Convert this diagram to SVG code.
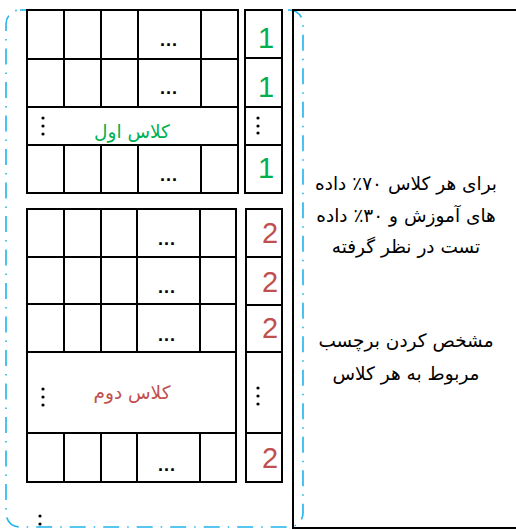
<svg xmlns="http://www.w3.org/2000/svg" width="516" height="530" viewBox="0 0 516 530">
<style>
.g{fill:none;stroke:#000;stroke-width:2}
.dot{fill:#000}
.ell{font-family:"Liberation Sans",Arial,sans-serif;font-size:18px;font-weight:bold;fill:#000;text-anchor:middle;letter-spacing:1px}
.n1{font-family:"Liberation Sans",Arial,sans-serif;font-size:29px;fill:#00b050;text-anchor:middle}
.n2{font-family:"Liberation Sans",Arial,sans-serif;font-size:29px;fill:#c0504d;text-anchor:middle}
.fa{font-family:"DejaVu Sans","Noto Sans",sans-serif;font-size:18.5px;text-anchor:middle}
.lb{font-family:"DejaVu Sans","Noto Sans",sans-serif;font-size:18.5px;text-anchor:middle}
</style>
<rect width="516" height="530" fill="#fff"/>
<g id="container">
<rect x="6" y="10" width="297" height="517" rx="14" fill="none" stroke="#1fb4ec" stroke-width="1.6" stroke-dasharray="16 8 1.5 8"/>
<circle class="dot" cx="40" cy="516" r="1.6"/>
<circle class="dot" cx="40" cy="524" r="1.6"/>
</g>
<g id="class1-data">
<path class="g" d="M27 10H238V193H27Z M27 59H238 M27 107H238 M27 145H238 M64 10V107 M101 10V107 M138 10V107 M201 10V107 M64 145V193 M101 145V193 M138 145V193 M201 145V193"/>
<text class="ell" x="169" y="46">...</text>
<text class="ell" x="169" y="94">...</text>
<text class="ell" x="169" y="181">...</text>
<circle class="dot" cx="43" cy="118" r="1.6"/>
<circle class="dot" cx="43" cy="126" r="1.6"/>
<circle class="dot" cx="43" cy="134" r="1.6"/>
<text class="lb" x="132" y="138" fill="#00b050" direction="rtl">کلاس اول</text>
</g>
<g id="class1-labels">
<path class="g" d="M245 10H282V193H245Z M245 58H282 M245 107H282 M245 145H282"/>
<text class="n1" x="266" y="48">1</text>
<text class="n1" x="266" y="97">1</text>
<text class="n1" x="266" y="178">1</text>
<circle class="dot" cx="258" cy="118" r="1.6"/>
<circle class="dot" cx="258" cy="126" r="1.6"/>
<circle class="dot" cx="258" cy="133" r="1.6"/>
</g>
<g id="class2-data">
<path class="g" d="M27 209H236V482H27Z M27 257H236 M27 304H236 M27 352H236 M27 433H236 M64 209V352 M101 209V352 M137 209V352 M200 209V352 M64 433V482 M101 433V482 M137 433V482 M200 433V482"/>
<text class="ell" x="167" y="245">...</text>
<text class="ell" x="167" y="293">...</text>
<text class="ell" x="167" y="341">...</text>
<text class="ell" x="167" y="471">...</text>
<circle class="dot" cx="43" cy="389" r="1.6"/>
<circle class="dot" cx="43" cy="397" r="1.6"/>
<circle class="dot" cx="43" cy="405" r="1.6"/>
<text class="lb" x="132" y="399" fill="#c0504d" direction="rtl">کلاس دوم</text>
</g>
<g id="class2-labels">
<path class="g" d="M246 209H282V482H246Z M246 257H282 M246 305H282 M246 352H282 M246 433H282"/>
<text class="n2" x="270" y="243">2</text>
<text class="n2" x="270" y="292">2</text>
<text class="n2" x="270" y="338">2</text>
<text class="n2" x="270" y="468">2</text>
<circle class="dot" cx="258" cy="388" r="1.6"/>
<circle class="dot" cx="258" cy="396" r="1.6"/>
<circle class="dot" cx="258" cy="404" r="1.6"/>
</g>
<g id="description">
<rect class="g" x="293" y="10" width="240" height="518"/>
<text class="fa" x="406" y="190" fill="#000" direction="rtl">برای هر کلاس ۷۰٪ داده</text>
<text class="fa" x="406" y="222" fill="#000" direction="rtl">های آموزش و ۳۰٪ داده</text>
<text class="fa" x="406" y="253" fill="#000" direction="rtl">تست در نظر گرفته</text>
<text class="fa" x="406" y="347" fill="#000" direction="rtl">مشخص کردن برچسب</text>
<text class="fa" x="406" y="380" fill="#000" direction="rtl">مربوط به هر کلاس</text>
</g>
<g id="connectors"/>
</svg>
